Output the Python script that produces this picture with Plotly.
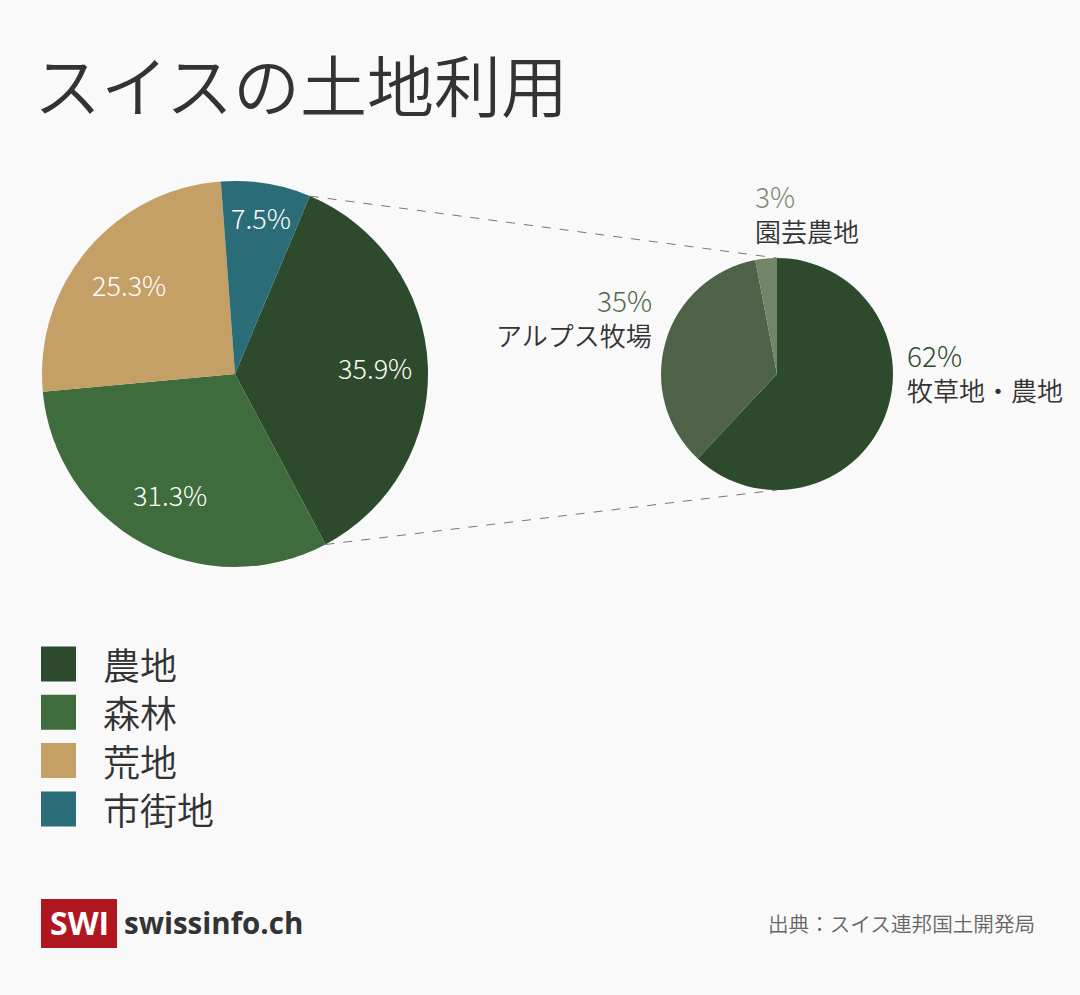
import math
import plotly.graph_objects as go

W, H = 1080, 995

# ---- data ----
main_labels = ["農地", "森林", "荒地", "市街地"]
main_values = [35.9, 31.3, 25.3, 7.5]
main_colors = ["#2d4b2c", "#3f6c3d", "#c4a066", "#2a6c78"]

sub_labels = ["牧草地・農地", "アルプス牧場", "園芸農地"]
sub_values = [62, 35, 3]
sub_colors = ["#2d4b2c", "#4e6247", "#748466"]
sub_label_colors = ["#2d4b2c", "#4f6b48", "#7b8a70"]

title_text = "スイスの土地利用"
source_text = "出典：スイス連邦国土開発局"
brand_text = "swissinfo.ch"
logo_text = "SWI"

FONT = "Noto Sans CJK JP, Noto Sans, sans-serif"
LATIN = "Open Sans, Roboto, sans-serif"


def px(x):
    return x / W


def py(y):
    return 1 - y / H


# pie geometry (pixels)
L_CX, L_CY, L_R = 235, 374, 193
R_CX, R_CY, R_R = 777, 374, 116
MAIN_ROT = 22.8
# radial position of the in-slice percentage labels (fraction of radius)
label_radius = [0.725, 0.71, 0.72, 0.82]

fig = go.Figure()
fig.add_trace(go.Pie(
    labels=main_labels, values=main_values, sort=False, direction="clockwise",
    rotation=MAIN_ROT,
    marker=dict(colors=main_colors, line=dict(width=0)),
    textinfo="none",
    domain=dict(x=[px(L_CX - L_R), px(L_CX + L_R)], y=[py(L_CY + L_R), py(L_CY - L_R)]),
    hoverinfo="label+value", showlegend=False,
))
fig.add_trace(go.Pie(
    labels=sub_labels, values=sub_values, sort=False, direction="clockwise",
    rotation=0,
    marker=dict(colors=sub_colors, line=dict(width=0)),
    textinfo="none",
    domain=dict(x=[px(R_CX - R_R), px(R_CX + R_R)], y=[py(R_CY + R_R), py(R_CY - R_R)]),
    hoverinfo="label+value", showlegend=False,
))

shapes = []
annotations = []

# percentage labels inside the main pie, placed at the middle angle of each slice
total = sum(main_values)
cum = 0.0
for val, rf in zip(main_values, label_radius):
    mid = math.radians(MAIN_ROT + 360 * (cum + val / 2) / total)
    cum += val
    x = L_CX + rf * L_R * math.sin(mid)
    y = L_CY - rf * L_R * math.cos(mid)
    annotations.append(dict(text=f"{val:.1f}%", x=px(x), y=py(y), xref="paper", yref="paper",
                            xanchor="center", yanchor="middle", showarrow=False,
                            font=dict(family=FONT, size=27, color="white", weight=300)))

# dashed connectors from the 農地 slice edges to the sub pie
a0 = math.radians(MAIN_ROT)
a1 = math.radians(MAIN_ROT + 360 * main_values[0] / total)
for ang, ty in [(a0, R_CY - R_R), (a1, R_CY + R_R)]:
    sx = L_CX + L_R * math.sin(ang)
    sy = L_CY - L_R * math.cos(ang)
    shapes.append(dict(type="line", xref="paper", yref="paper",
                       x0=px(sx), y0=py(sy), x1=px(R_CX), y1=py(ty),
                       line=dict(color="#777777", width=1, dash="dash")))

# sub pie labels: (x, y_pct, y_label, anchor)
sub_pos = [(905, 355, 389, "left"), (654, 300, 334, "right"), (753, 196, 230, "left")]
for lab, val, col, (x, y1, y2, anc) in zip(sub_labels, sub_values, sub_label_colors, sub_pos):
    annotations.append(dict(text=f"{val}%", x=px(x), y=py(y1), xref="paper", yref="paper",
                            xanchor=anc, yanchor="middle", showarrow=False,
                            font=dict(family=FONT, size=28, color=col, weight=300)))
    annotations.append(dict(text=lab, x=px(x), y=py(y2), xref="paper", yref="paper",
                            xanchor=anc, yanchor="middle", showarrow=False,
                            font=dict(family=FONT, size=26, color="#333333", weight=350)))

# legend
for i, (lab, col) in enumerate(zip(main_labels, main_colors)):
    yc = 664 + i * 48.3
    shapes.append(dict(type="rect", xref="paper", yref="paper",
                       x0=px(41), x1=px(76), y0=py(yc - 17.5), y1=py(yc + 17.5),
                       fillcolor=col, line=dict(width=0)))
    annotations.append(dict(text=lab, x=px(101), y=py(yc), xref="paper", yref="paper",
                            xanchor="left", yanchor="middle", showarrow=False,
                            font=dict(family=FONT, size=37, color="#333333", weight=350)))

# title
annotations.append(dict(text=title_text, x=px(32), y=py(83), xref="paper", yref="paper",
                        xanchor="left", yanchor="middle", showarrow=False,
                        font=dict(family=FONT, size=67, color="#333333", weight=350)))

# footer
shapes.append(dict(type="rect", xref="paper", yref="paper",
                   x0=px(41), x1=px(117), y0=py(948), y1=py(899),
                   fillcolor="#b0161f", line=dict(width=0)))
annotations.append(dict(text=f"<b>{logo_text}</b>", x=px(79), y=py(922), xref="paper", yref="paper",
                        xanchor="center", yanchor="middle", showarrow=False,
                        font=dict(family=LATIN, size=32, color="white")))
annotations.append(dict(text=f"<b>{brand_text}</b>", x=px(122), y=py(922), xref="paper", yref="paper",
                        xanchor="left", yanchor="middle", showarrow=False,
                        font=dict(family=LATIN, size=29.5, color="#333333")))
annotations.append(dict(text=source_text, x=px(1037), y=py(923), xref="paper", yref="paper",
                        xanchor="right", yanchor="middle", showarrow=False,
                        font=dict(family=FONT, size=20.6, color="#666666", weight=350)))

fig.update_layout(
    width=W, height=H,
    margin=dict(l=0, r=0, t=0, b=0),
    paper_bgcolor="#f9f9f9", plot_bgcolor="#f9f9f9",
    shapes=shapes, annotations=annotations,
)

fig.write_html("out.html", config={"displayModeBar": False},
               post_script="document.body.style.margin='0';document.body.style.overflow='hidden';")
